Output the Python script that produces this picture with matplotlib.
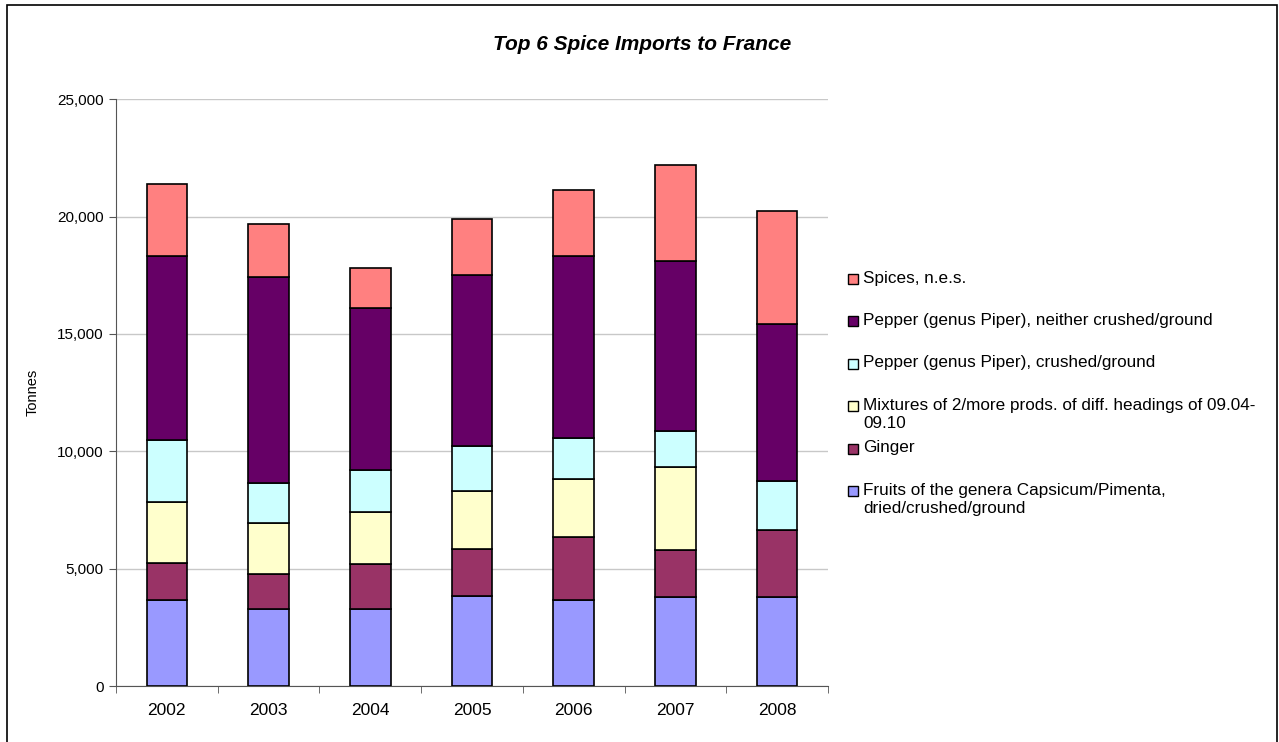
import matplotlib
matplotlib.use("Agg")
import matplotlib.pyplot as plt
from matplotlib.patches import Rectangle
from matplotlib.ticker import FuncFormatter, FixedLocator
import numpy as np

plt.rcParams['font.family'] = ['Liberation Sans', 'DejaVu Sans']

# data (tonnes)
years = ['2002', '2003', '2004', '2005', '2006', '2007', '2008']
capsicum = [3650, 3260, 3260, 3820, 3650, 3790, 3790]
ginger = [1590, 1530, 1920, 2020, 2680, 2005, 2840]
mixtures = [2580, 2150, 2220, 2480, 2510, 3550, 0]
pepper_crushed = [2650, 1690, 1790, 1900, 1730, 1540, 2090]
pepper_whole = [7870, 8800, 6920, 7300, 7760, 7210, 6705]
spices_nes = [3030, 2250, 1720, 2365, 2800, 4110, 4800]

series_names = [
    'Fruits of the genera Capsicum/Pimenta,\ndried/crushed/ground',
    'Ginger',
    'Mixtures of 2/more prods. of diff. headings of 09.04-\n09.10',
    'Pepper (genus Piper), crushed/ground',
    'Pepper (genus Piper), neither crushed/ground',
    'Spices, n.e.s.',
]
series_colors = ['#9999FF', '#993366', '#FFFFCC', '#CCFFFF', '#660066', '#FF8080']
series = [capsicum, ginger, mixtures, pepper_crushed, pepper_whole, spices_nes]

W, H = 1279, 742
fig = plt.figure(figsize=(W / 100, H / 100), dpi=100)
ax = fig.add_axes([116 / W, 1 - 686 / H, (828 - 116) / W, (686 - 99.3) / H])

x = np.arange(len(years))
bottom = np.zeros(len(years))
for vals, col in zip(series, series_colors):
    vals = np.array(vals, dtype=float)
    ax.bar(x, vals, 0.4, bottom=bottom, color=col, edgecolor='black',
           linewidth=1.2, zorder=3)
    bottom += vals

ax.set_xlim(-0.5, len(years) - 0.5)
ax.set_ylim(0, 25000)
ax.set_yticks(np.arange(0, 25001, 5000))
ax.yaxis.set_major_formatter(FuncFormatter(lambda v, p: '{:,.0f}'.format(v)))
ax.grid(axis='y', color='#c8c8c8', linewidth=1, zorder=0)
ax.set_xticks(x)
ax.set_xticklabels(years, fontsize=12.5)
ax.xaxis.set_minor_locator(FixedLocator(np.arange(-0.5, len(years), 1.0)))
ax.tick_params(axis='x', which='major', length=0, pad=12)
ax.tick_params(axis='x', which='minor', length=5, color='#555555')
ax.tick_params(axis='y', length=5, color='#555555', labelsize=11, pad=4)
for s in ['top', 'right']:
    ax.spines[s].set_visible(False)
for s in ['left', 'bottom']:
    ax.spines[s].set_color('#555555')
ax.set_ylabel('Tonnes', fontsize=10.5)
ax.yaxis.set_label_coords(-0.107, 0.5)

fig.text(642 / W, 1 - 44 / H, 'Top 6 Spice Imports to France', ha='center',
         va='center', fontsize=15, fontweight='bold', fontstyle='italic')

# legend, top series first
y0, step = 279, 42.4
for i, (name, col) in enumerate(zip(series_names[::-1], series_colors[::-1])):
    yc = y0 + i * step
    fig.patches.append(Rectangle((848 / W, 1 - (yc + 5) / H), 10 / W, 10 / H,
                                 transform=fig.transFigure, facecolor=col,
                                 edgecolor='black', linewidth=1))
    fig.text(863 / W, 1 - (yc - 8.5) / H, name, ha='left', va='top',
             fontsize=12.3, linespacing=1.25)

# chart border
fig.patches.append(Rectangle((7 / W, -0.05), (1277 - 7) / W, 1 - 5 / H + 0.05,
                             transform=fig.transFigure, fill=False,
                             edgecolor='black', linewidth=1.2))

fig.savefig('out.png', dpi=100)
